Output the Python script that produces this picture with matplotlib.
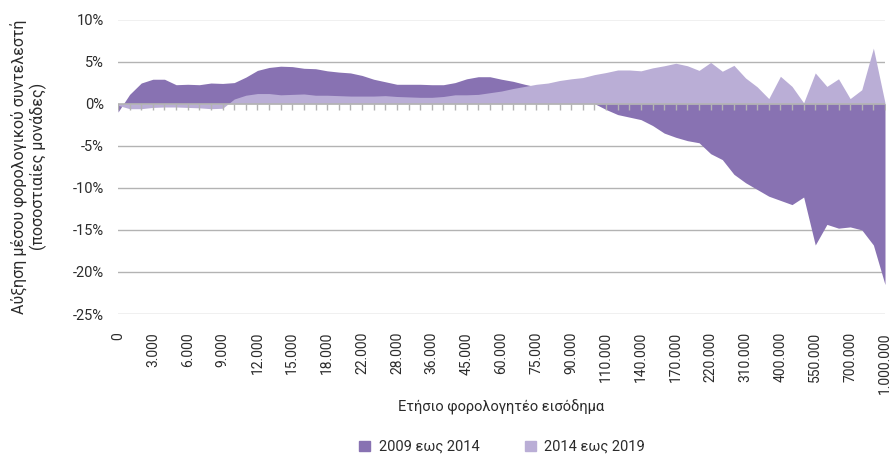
import matplotlib.pyplot as plt
from matplotlib.patches import Patch

plt.rcParams['font.family'] = ['Roboto', 'DejaVu Sans']

# income brackets (euro), one point per bracket
income = [0, 1000, 2000, 3000, 4000, 5000, 6000, 7000, 8000, 9000,
          10000, 11000, 12000, 13000, 14000, 15000, 16000, 17000, 18000, 19000,
          20000, 22000, 24000, 26000, 28000, 30000, 33000, 36000, 39000, 42000,
          45000, 50000, 55000, 60000, 65000, 70000, 75000, 80000, 85000, 90000,
          95000, 100000, 110000, 120000, 130000, 140000, 150000, 160000, 170000, 180000,
          200000, 220000, 250000, 280000, 310000, 340000, 370000, 400000, 450000, 500000,
          550000, 600000, 650000, 700000, 800000, 900000, 1000000]

# change of average tax rate, percentage points
chg_2009_2014 = [-1.0, 1.1, 2.45, 2.9, 2.9, 2.25, 2.3, 2.25, 2.45, 2.4,
                 2.5, 3.15, 3.95, 4.3, 4.45, 4.4, 4.2, 4.15, 3.9, 3.75,
                 3.65, 3.35, 2.9, 2.6, 2.3, 2.3, 2.3, 2.25, 2.25, 2.5,
                 2.95, 3.2, 3.2, 2.9, 2.65, 2.3, 2.0, 1.6, 1.2, 0.8,
                 0.4, 0.0, -0.7, -1.3, -1.6, -1.9, -2.6, -3.5, -4.0, -4.4,
                 -4.65, -5.95, -6.65, -8.4, -9.4, -10.2, -11.0, -11.5, -12.0, -11.1,
                 -16.8, -14.35, -14.8, -14.65, -15.0, -16.8, -21.5]

chg_2014_2019 = [-0.2, -0.6, -0.6, -0.45, -0.4, -0.4, -0.45, -0.5, -0.6, -0.55,
                 0.55, 1.0, 1.2, 1.2, 1.05, 1.1, 1.15, 1.0, 1.0, 0.95,
                 0.9, 0.9, 0.9, 0.95, 0.85, 0.8, 0.75, 0.75, 0.85, 1.05,
                 1.05, 1.1, 1.3, 1.5, 1.8, 2.05, 2.3, 2.45, 2.75, 2.95,
                 3.1, 3.45, 3.7, 4.0, 4.0, 3.9, 4.25, 4.5, 4.8, 4.5,
                 3.95, 4.9, 3.85, 4.55, 3.05, 2.0, 0.6, 3.25, 2.05, 0.1,
                 3.65, 2.05, 2.95, 0.6, 1.65, 6.6, 0.1]

series_names = ['2009 εως 2014', '2014 εως 2019']
dark = '#8872B2'
light = '#BAAED6'
grid_col = '#B3B3B3'
txt = '#2B2B2B'
fs = 10

fig = plt.figure(figsize=(8.92, 4.57), dpi=100)
ax = fig.add_axes([118 / 892, 1 - 314 / 457, 767 / 892, 294.5 / 457])

x = list(range(len(income)))
ax.fill_between(x, chg_2009_2014, 0, color=dark, lw=0, zorder=2)
ax.fill_between(x, chg_2014_2019, 0, color=light, lw=0, zorder=2)

# zero line with category tick marks
ax.axhline(0, color=grid_col, lw=1.2, zorder=3)
ax.plot(x, [0] * len(x), linestyle='none', marker=3, markersize=4,
        markeredgewidth=1, color=grid_col, zorder=3)

ax.set_xlim(0, len(income) - 1)
ax.set_ylim(-25, 10)
yt = [10, 5, 0, -5, -10, -15, -20, -25]
ax.set_yticks(yt)
ax.set_yticklabels([f'{v}%' for v in yt], fontsize=fs + 0.5, color=txt)
for v in yt:
    if v != 0:
        ax.axhline(v, color=grid_col, lw=1, zorder=1)

ax.set_xticks(x[::3])
ax.set_xticklabels([f'{v:,}'.replace(',', '.') for v in income[::3]],
                   rotation=90, fontsize=fs, color=txt, va='top')
ax.tick_params(axis='both', length=0)
ax.tick_params(axis='x', pad=13)
ax.tick_params(axis='y', pad=10)
for s in ax.spines.values():
    s.set_visible(False)

ax.set_ylabel('Αύξηση μέσου φορολογικού συντελεστή\n(ποσοστιαίες μονάδες)',
              fontsize=11.5, color=txt, linespacing=1.1)
ax.yaxis.set_label_coords(-0.093, 0.5)
fig.text(501.5 / 892, 1 - 407 / 457, 'Ετήσιο φορολογητέο εισόδημα',
         ha='center', va='center', fontsize=fs + 0.5, color=txt)

handles = [Patch(color=dark), Patch(color=light)]
fig.legend(handles, series_names, loc='center', bbox_to_anchor=(502 / 892, 1 - 447 / 457),
           ncol=2, frameon=False, fontsize=fs + 0.5, handlelength=0.75, handleheight=0.75,
           columnspacing=3.1, handletextpad=0.6, labelcolor=txt)

fig.savefig('out.png', dpi=100)
